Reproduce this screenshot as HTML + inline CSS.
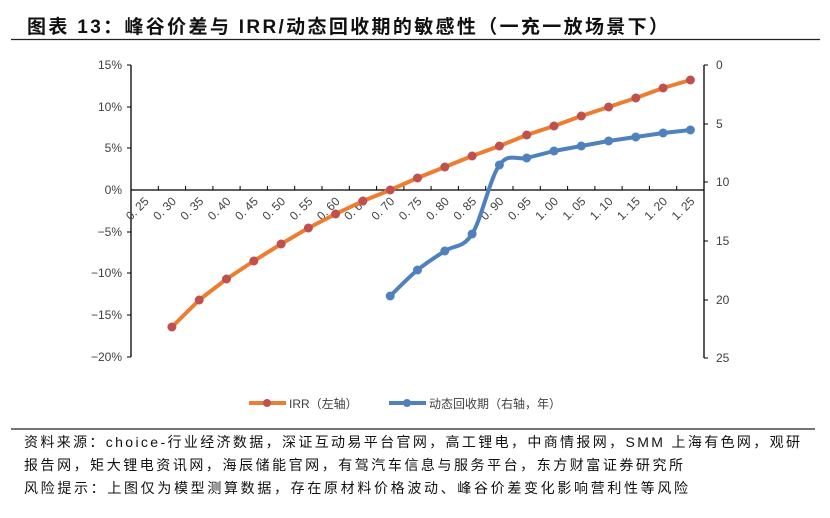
<!DOCTYPE html>
<html><head><meta charset="utf-8"><style>
body{margin:0;background:#fff;}
svg{display:block;}
</style></head><body>
<svg width="830" height="518" xmlns="http://www.w3.org/2000/svg" font-family="'Liberation Sans','Noto Sans CJK SC',sans-serif">
<rect width="830" height="518" fill="#fff"/>
<text x="27" y="33" font-size="19" font-weight="bold" fill="#111" textLength="641" lengthAdjust="spacing">图表 13：峰谷价差与 IRR/动态回收期的敏感性（一充一放场景下）</text>
<line x1="11" y1="39.5" x2="820" y2="39.5" stroke="#222" stroke-width="1.3"/>
<g font-size="12" fill="#404040" text-anchor="end">
<text x="122" y="69">15%</text><text x="122" y="111">10%</text><text x="122" y="152">5%</text><text x="122" y="194">0%</text>
<text x="122" y="236">−5%</text><text x="122" y="277">−10%</text><text x="122" y="319">−15%</text><text x="122" y="361">−20%</text>
</g>
<g font-size="12" fill="#404040">
<text x="716" y="69">0</text><text x="716" y="128">5</text><text x="716" y="186">10</text><text x="716" y="245">15</text><text x="716" y="304">20</text><text x="716" y="362">25</text>
</g>
<g stroke="#000" stroke-width="1.3">
<line x1="131" y1="65" x2="131" y2="357"/>
<g stroke-width="1"><line x1="127" y1="65" x2="131" y2="65"/><line x1="127" y1="107" x2="131" y2="107"/><line x1="127" y1="148" x2="131" y2="148"/><line x1="127" y1="232" x2="131" y2="232"/><line x1="127" y1="273" x2="131" y2="273"/><line x1="127" y1="315" x2="131" y2="315"/><line x1="127" y1="357" x2="131" y2="357"/></g>
<line x1="704" y1="65" x2="704" y2="358"/>
<g stroke-width="1"><line x1="704" y1="65" x2="708" y2="65"/><line x1="704" y1="124" x2="708" y2="124"/><line x1="704" y1="182" x2="708" y2="182"/><line x1="704" y1="241" x2="708" y2="241"/><line x1="704" y1="300" x2="708" y2="300"/><line x1="704" y1="358" x2="708" y2="358"/></g>
<line x1="131" y1="190" x2="704" y2="190"/>
<path stroke-width="1" d="M158.3,186V190M185.6,186V190M212.9,186V190M240.1,186V190M267.4,186V190M294.7,186V190M322,186V190M349.3,186V190M376.6,186V190M403.9,186V190M431.1,186V190M458.4,186V190M485.7,186V190M513,186V190M540.3,186V190M567.6,186V190M594.9,186V190M622.1,186V190M649.4,186V190M676.7,186V190"/>
</g>
<g font-size="12" fill="#404040" text-anchor="end">
<text x="149.6" y="202" transform="rotate(-45 149.6 202)">0. 25</text>
<text x="176.9" y="202" transform="rotate(-45 176.9 202)">0. 30</text>
<text x="204.2" y="202" transform="rotate(-45 204.2 202)">0. 35</text>
<text x="231.5" y="202" transform="rotate(-45 231.5 202)">0. 40</text>
<text x="258.8" y="202" transform="rotate(-45 258.8 202)">0. 45</text>
<text x="286.1" y="202" transform="rotate(-45 286.1 202)">0. 50</text>
<text x="313.4" y="202" transform="rotate(-45 313.4 202)">0. 55</text>
<text x="340.6" y="202" transform="rotate(-45 340.6 202)">0. 60</text>
<text x="367.9" y="202" transform="rotate(-45 367.9 202)">0. 65</text>
<text x="395.2" y="202" transform="rotate(-45 395.2 202)">0. 70</text>
<text x="422.5" y="202" transform="rotate(-45 422.5 202)">0. 75</text>
<text x="449.8" y="202" transform="rotate(-45 449.8 202)">0. 80</text>
<text x="477.1" y="202" transform="rotate(-45 477.1 202)">0. 85</text>
<text x="504.4" y="202" transform="rotate(-45 504.4 202)">0. 90</text>
<text x="531.7" y="202" transform="rotate(-45 531.7 202)">0. 95</text>
<text x="559" y="202" transform="rotate(-45 559 202)">1. 00</text>
<text x="586.3" y="202" transform="rotate(-45 586.3 202)">1. 05</text>
<text x="613.6" y="202" transform="rotate(-45 613.6 202)">1. 10</text>
<text x="640.8" y="202" transform="rotate(-45 640.8 202)">1. 15</text>
<text x="668.1" y="202" transform="rotate(-45 668.1 202)">1. 20</text>
<text x="695.4" y="202" transform="rotate(-45 695.4 202)">1. 25</text>
</g>
<polyline fill="none" stroke="#ED7D31" stroke-width="4" stroke-linejoin="round" points="171.9,327 199.2,300 226.5,279 253.8,261 281.1,244 308.4,228 335.6,214 362.9,201 390.2,190 417.5,178 444.8,167 472.1,156 499.4,146 526.7,135 554,126 581.3,116 608.6,107 635.8,98 663.1,88 690.4,80"/>
<g fill="#C0504D">
<circle cx="171.9" cy="327" r="4.5"/><circle cx="199.2" cy="300" r="4.5"/><circle cx="226.5" cy="279" r="4.5"/><circle cx="253.8" cy="261" r="4.5"/><circle cx="281.1" cy="244" r="4.5"/><circle cx="308.4" cy="228" r="4.5"/><circle cx="335.6" cy="214" r="4.5"/><circle cx="362.9" cy="201" r="4.5"/><circle cx="390.2" cy="190" r="4.5"/><circle cx="417.5" cy="178" r="4.5"/><circle cx="444.8" cy="167" r="4.5"/><circle cx="472.1" cy="156" r="4.5"/><circle cx="499.4" cy="146" r="4.5"/><circle cx="526.7" cy="135" r="4.5"/><circle cx="554" cy="126" r="4.5"/><circle cx="581.3" cy="116" r="4.5"/><circle cx="608.6" cy="107" r="4.5"/><circle cx="635.8" cy="98" r="4.5"/><circle cx="663.1" cy="88" r="4.5"/><circle cx="690.4" cy="80" r="4.5"/>
</g>
<path fill="none" stroke="#4F81BD" stroke-width="4" stroke-linejoin="round" d="M390.2,296 C394.8,291.6 408.2,277.7 417.5,270 C426.8,262.4 435.5,257.1 444.8,251 C454.1,244.9 462.8,248.6 472.1,234 C481.4,219.4 490.1,177.9 499.4,165 C508.7,152.1 517.4,160.4 526.7,158 L554,151 L581.3,146 L608.6,141 L635.8,137 L663.1,133 L690.4,130"/>
<g fill="#4F81BD">
<circle cx="390.2" cy="296" r="4.5"/><circle cx="417.5" cy="270" r="4.5"/><circle cx="444.8" cy="251" r="4.5"/><circle cx="472.1" cy="234" r="4.5"/><circle cx="499.4" cy="165" r="4.5"/><circle cx="526.7" cy="158" r="4.5"/><circle cx="554" cy="151" r="4.5"/><circle cx="581.3" cy="146" r="4.5"/><circle cx="608.6" cy="141" r="4.5"/><circle cx="635.8" cy="137" r="4.5"/><circle cx="663.1" cy="133" r="4.5"/><circle cx="690.4" cy="130" r="4.5"/>
</g>
<line x1="249" y1="403" x2="286" y2="403" stroke="#ED7D31" stroke-width="4"/><circle cx="267" cy="403" r="4" fill="#C0504D"/>
<text x="289" y="408" font-size="12" fill="#404040">IRR（左轴）</text>
<line x1="389" y1="403" x2="426" y2="403" stroke="#4F81BD" stroke-width="4"/><circle cx="407" cy="403" r="4" fill="#4F81BD"/>
<text x="429" y="408" font-size="12" fill="#404040">动态回收期（右轴，年）</text>
<line x1="11" y1="429" x2="815" y2="429" stroke="#222" stroke-width="1.3"/>
<g font-size="14" fill="#111">
<text x="24" y="447" textLength="776" lengthAdjust="spacing">资料来源：choice-行业经济数据，深证互动易平台官网，高工锂电，中商情报网，SMM 上海有色网，观研</text>
<text x="24" y="470" textLength="659" lengthAdjust="spacing">报告网，矩大锂电资讯网，海辰储能官网，有驾汽车信息与服务平台，东方财富证券研究所</text>
<text x="24" y="493" textLength="664" lengthAdjust="spacing">风险提示：上图仅为模型测算数据，存在原材料价格波动、峰谷价差变化影响营利性等风险</text>
</g>
</svg>
</body></html>
